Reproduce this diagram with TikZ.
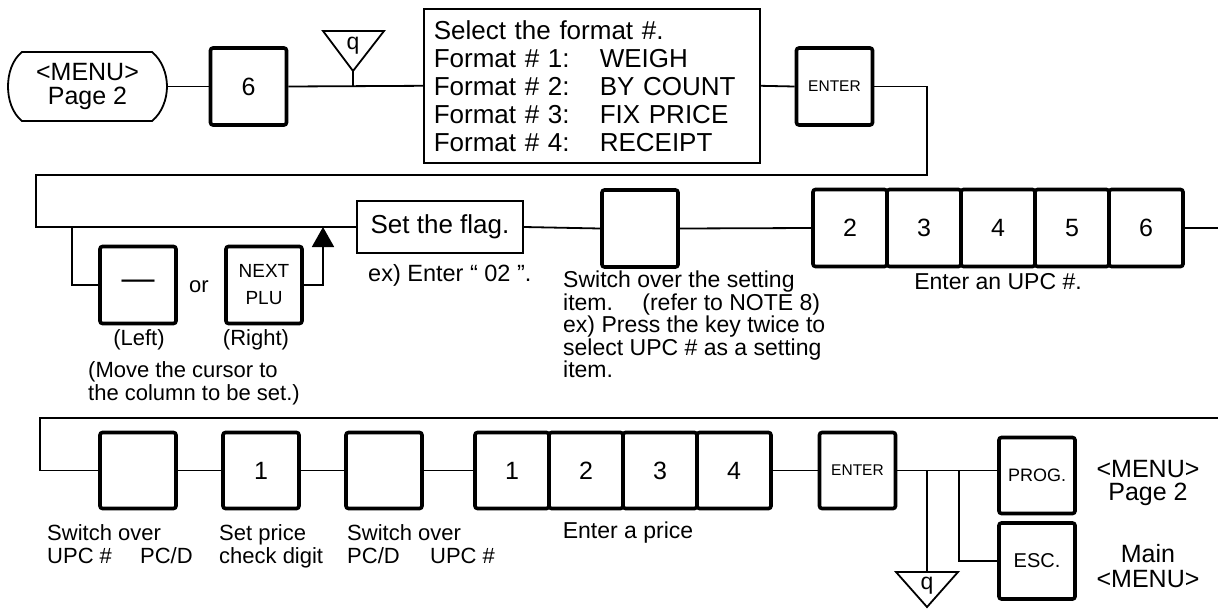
\documentclass[tikz,border=0pt]{standalone}
\usepackage{fontspec}
\setmainfont{Liberation Sans}
\usetikzlibrary{arrows.meta}
\newcommand{\fsz}[2]{\fontsize{#1}{#2}\selectfont}
\begin{document}
\begin{tikzpicture}[x=1pt,y=-1pt,
  conn/.style={line width=1.8pt},
  key/.style={draw, line width=3.6pt, rounded corners=2.5pt, minimum width=76pt, minimum height=77pt, inner sep=0pt, font=\fsz{25}{25}},
  thinbox/.style={draw, line width=1.6pt, inner sep=0pt},
  lbl/.style={inner sep=0pt, align=left, font=\fsz{22}{23}},
  tri/.style={line width=1.8pt, line join=miter},
]
\fill[white] (0,0) rectangle (1218,608);
\useasboundingbox (0,0) rectangle (1218,608);

% ---------- Row 1 ----------
\node[minimum width=159pt, minimum height=69pt, inner sep=0pt, align=center, font=\fsz{25}{24}] (menu) at (87.5,86.5) {<MENU>\\Page 2};
\draw[line width=1.8pt] (22,52) -- (152,52) .. controls (162,60) and (167,74) .. (167,86.5) .. controls (167,99) and (162,113) .. (152,121) -- (22,121) .. controls (12,113) and (8,99) .. (8,86.5) .. controls (8,74) and (12,60) .. (22,52) -- cycle;

\node[key] (k6) at (248.5,86.5) {6};

\node[inner sep=0pt, font=\fsz{23}{23}] (q1) at (353,46) {q};
\draw[tri] (323,31) -- (384,31) -- (353,71) -- cycle;
\coordinate (q1tip) at (353,71);

\node[thinbox, anchor=north west, minimum height=154pt, text width=316pt, inner xsep=10pt, align=left, font=\fsz{26}{28}] (fmt) at (423,8)
 {Select the format \#.\\
  \makebox[166pt][l]{Format \# 1:}WEIGH\\
  \makebox[166pt][l]{Format \# 2:}BY COUNT\\
  \makebox[166pt][l]{Format \# 3:}FIX PRICE\\
  \makebox[166pt][l]{Format \# 4:}RECEIPT};

\node[key, font=\fsz{15.5}{16}] (ent1) at (834.5,86.5) {ENTER};

\coordinate (t1) at (927,175);
\coordinate (t2) at (36,175);

% ---------- Row 2 ----------
\node[thinbox, minimum width=166pt, minimum height=52pt, font=\fsz{26}{26}] (flag) at (440,227) {Set the flag.};
\node[key, font=\fsz{33}{33}] (kl) at (138,285) {\raisebox{-4pt}{—}};
\node[lbl] (or) at (199,287) {or};
\node[key, align=center, font=\fsz{19}{27}] (kn) at (264,285) {NEXT\\PLU};
\coordinate (b1) at (72,227);
\coordinate (a1) at (323,227);
\node[lbl] (lleft) at (139,340) {(Left)};
\node[lbl] (lright) at (256,340) {(Right)};
\node[lbl, anchor=north west] (move) at (88,361) {(Move the cursor to\\the column to be set.)};
\node[lbl, anchor=north west, font=\fsz{23.5}{24}] (ex1) at (368,264) {ex) Enter “ 02 ”.};

\node[key] (kb1) at (640,228.5) {};
\node[lbl, anchor=north west, font=\fsz{23}{18.5}] (desc) at (563,271)
 {Switch over the setting\\item.\quad\ (refer to NOTE 8)\\ex) Press the key twice to\\select UPC \# as a setting\\item.};

\foreach \n/\x in {2/850,3/924,4/998,5/1072,6/1146}
  \node[key, minimum width=74pt] (u\n) at (\x,228) {\n};
\node[lbl, font=\fsz{23}{23}] (upc) at (998,282) {Enter an UPC \#.};
\coordinate (r2e) at (1218,228);

% ---------- Row 3 ----------
\coordinate (r3s) at (1218,418);
\coordinate (r3c) at (40,418);
\node[key, minimum height=76pt] (ka) at (138,470.5) {};
\node[key, minimum height=76pt] (kc) at (261,470.5) {1};
\node[key, minimum height=76pt] (kb) at (384,470.5) {};
\foreach \n/\x in {1/512,2/586,3/660,4/734}
  \node[key, minimum width=74pt, minimum height=76pt] (p\n) at (\x,470.5) {\n};
\node[key, minimum height=76pt, font=\fsz{15.5}{16}] (ent2) at (857.5,470.5) {ENTER};
\node[key, minimum height=76pt, font=\fsz{18}{18}] (prog) at (1037,475.5) {PROG.};
\node[key, minimum height=76pt, font=\fsz{20}{20}] (esc) at (1037,561) {ESC.};
\coordinate (br1) at (927,470);
\coordinate (br2) at (959,470);
\node[inner sep=0pt, font=\fsz{23}{23}] (q2) at (927,586) {q};
\draw[tri] (896,572) -- (958,572) -- (927,607) -- cycle;
\coordinate (q2top) at (927,572);

\node[lbl, anchor=north west] (s1) at (47,524) {Switch over\\\makebox[93pt][l]{UPC \#}PC/D};
\node[lbl, anchor=north west] (s2) at (219,524) {Set price\\check digit};
\node[lbl, anchor=north west] (s3) at (347,524) {Switch over\\\makebox[83pt][l]{PC/D}UPC \#};
\node[lbl, font=\fsz{23}{23}] (price) at (628,533) {Enter a price};
\node[align=center, inner sep=0pt, font=\fsz{25}{23}] (m1) at (1148,483) {<MENU>\\Page 2};
\node[align=center, inner sep=0pt, font=\fsz{25}{25}] (m2) at (1148,566) {Main\\<MENU>};

% ---------- Connectors ----------
\draw[conn] (menu.east) -- (k6.west);
\draw[conn] (k6.east) -- (fmt.west);
\draw[conn] (q1tip) -- (q1tip |- k6.center);
\draw[conn] (fmt.east) -- (ent1.west);
\draw[conn] (ent1.east) -| (t1) -- (t2) |- (flag.west);
\draw[conn] (b1) |- (kl.west);
\draw[conn, -{Triangle[length=20pt,width=22pt]}] (kn.east) -| (a1);
\draw[conn] (flag.east) -- (kb1.west);
\draw[conn] (kb1.east) -- (u2.west);
\draw[conn] (u6.east) -- (r2e);
\draw[conn] (r3s) -- (r3c) |- (ka.west);
\draw[conn] (ka.east) -- (kc.west);
\draw[conn] (kc.east) -- (kb.west);
\draw[conn] (kb.east) -- (p1.west);
\draw[conn] (p4.east) -- (ent2.west);
\draw[conn] (ent2.east) -- (ent2.east -| prog.west);
\draw[conn] (br1) -- (q2top);
\draw[conn] (br2) |- (esc.west);
\end{tikzpicture}
\end{document}
